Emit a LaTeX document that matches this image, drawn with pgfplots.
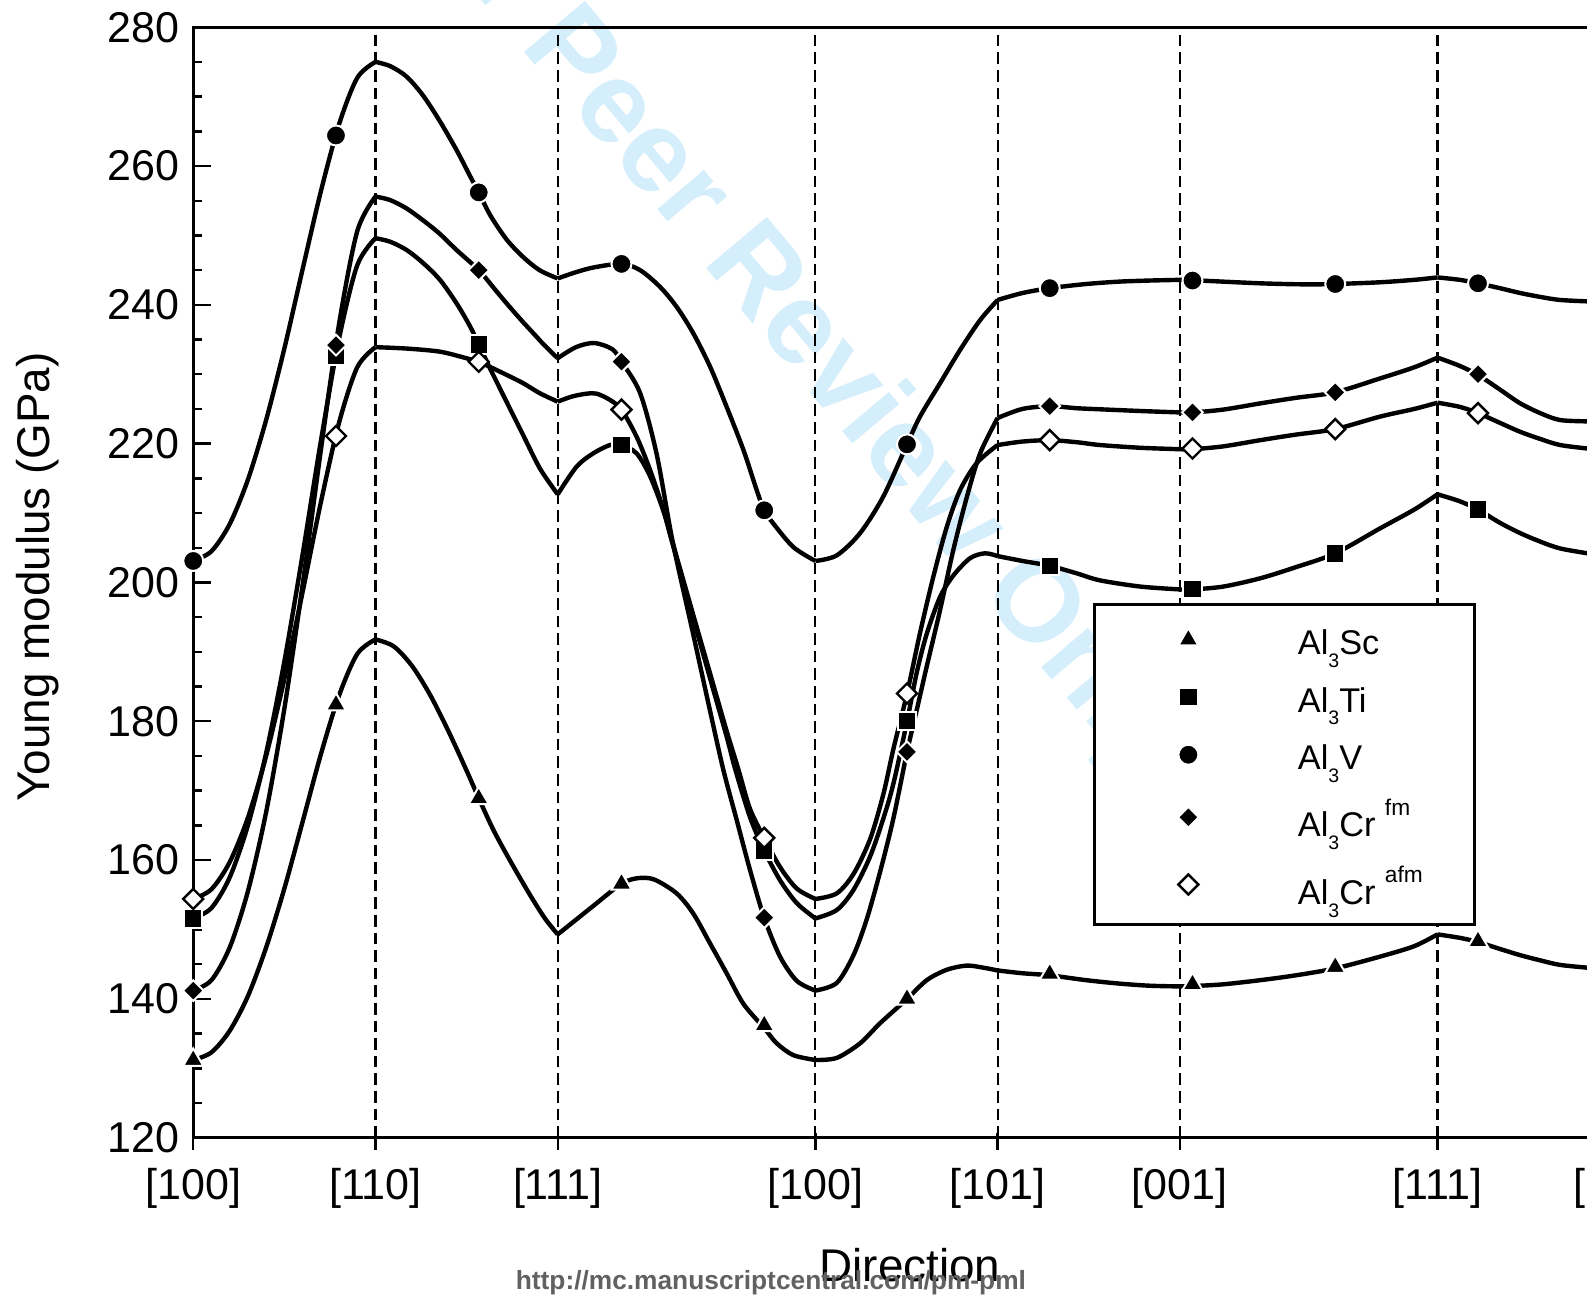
\documentclass[border=0pt]{standalone}
\usepackage{fontspec}
\setmainfont{Liberation Sans}
\usepackage{pgfplots}
\pgfplotsset{compat=1.18}
\definecolor{wmblue}{RGB}{212,238,251}
\newcommand{\lsub}[1]{\smash{\raisebox{-3.2bp}{\fontsize{4.9}{5}\selectfont #1}}}
\newcommand{\lsup}[1]{\smash{\raisebox{5.4bp}{\fontsize{5.7}{6}\selectfont #1}}}
\newcommand{\lstrutA}{\rule[-2.7bp]{0pt}{11.6bp}}
\newcommand{\lstrutB}{\rule[-5.15bp]{0pt}{16.5bp}}
\newcommand{\lstrutC}{\rule[-5.15bp]{0pt}{16.5bp}}
\begin{document}
\begin{tikzpicture}
\useasboundingbox (-48.3bp,-39.6bp) rectangle (348.4bp,284.4bp);
\node[rotate=-50, text=wmblue, font=\fontsize{29}{35}\selectfont\bfseries] at (147.8bp,205.6bp) {For Peer Review Only};
\begin{axis}[
  at={(0,0)}, anchor=south west,
  scale only axis, width=356.6bp, height=277.6bp,
  xmin=0, xmax=7.828, ymin=120, ymax=280,
  xtick={0,1,2,3.414,4.414,5.414,6.828,7.828},
  xticklabels={{[100]},{[110]},{[111]},{[100]},{[101]},{[001]},{[111]},{[110]}},
  ytick={120,140,160,180,200,220,240,260,280},
  minor y tick num=3,
  tick align=inside,
  xtick pos=left, ytick pos=left,
  major tick length=4.4bp, minor tick length=2.2bp,
  tick style={black, line width=0.6bp},
  xtick style={yshift=-3.1bp},
  xmajorgrids,
  grid style={black, line width=0.55bp, dash pattern=on 2.9bp off 1.5bp},
  axis line style={line width=0.7bp},
  /pgf/number format/assume math mode=true,
  tick label style={font=\fontsize{10.8}{13}\selectfont},
  xticklabel style={yshift=-4.2bp},
  label style={font=\fontsize{11.5}{14}\selectfont},
  xlabel={Direction},
  xlabel style={at={(axis description cs:0.5025,-0.1291)}, anchor=base},
  ylabel={Young modulus (GPa)},
  ylabel style={at={(axis description cs:-0.1004,0.505)}, anchor=base},
  legend cell align=left,
  legend image code/.code={\path[draw=none, fill=none] (-12.6bp,0bp) -- (0bp,0bp); \draw[#1, only marks] plot coordinates {(0bp,0bp)};},
  legend style={at={(0.6307,0.4814)}, anchor=north west, draw=black, line width=0.7bp, fill=white,
    inner xsep=10.9bp, inner ysep=1.6bp, column sep=22.8bp, row sep=0pt,
    font=\fontsize{8.6}{10}\selectfont},
  crv/.style={black, line width=1.1bp, line join=round, smooth, mark=none, forget plot},
]
% ---------- Al3V ----------
\addplot[crv] coordinates {(0,203.1)(0.1,204.5)(0.2,208.4)(0.3,214.8)(0.4,223.4)(0.5,233.7)(0.6,245.1)(0.7,256.3)(0.8,266.0)(0.9,272.7)(1,275.0)};
\addplot[crv] coordinates {(1,275.0)(1.08,274.4)(1.17,272.9)(1.26,270.2)(1.35,266.6)(1.445,262.3)(1.52,258.5)(1.567,256.2)(1.63,252.9)(1.72,249.4)(1.81,246.9)(1.90,245.0)(2,243.8)};
\addplot[crv] coordinates {(2,243.8)(2.1,244.7)(2.2,245.4)(2.35,245.9)(2.452,245.0)(2.561,242.6)(2.653,239.7)(2.744,235.9)(2.836,231.1)(2.927,225.3)(3.019,219.1)(3.092,213.3)(3.133,210.4)(3.183,208.5)(3.293,205.1)(3.414,203.1)};
\addplot[crv] coordinates {(3.414,203.1)(3.531,203.9)(3.659,207.1)(3.787,212.4)(3.917,219.9)(3.988,223.9)(4.098,228.7)(4.208,233.5)(4.318,237.8)(4.414,240.7)};
\addplot[crv] coordinates {(4.414,240.7)(4.55,241.7)(4.70,242.4)(4.90,243.0)(5.086,243.35)(5.25,243.5)(5.414,243.6)};
\addplot[crv] coordinates {(5.414,243.6)(5.483,243.55)(5.855,243.1)(6.1,242.95)(6.267,243.0)(6.513,243.25)(6.70,243.6)(6.828,243.95)};
\addplot[crv] coordinates {(6.828,243.95)(6.95,243.6)(7.05,243.1)(7.17,242.4)(7.282,241.7)(7.40,241.1)(7.501,240.7)(7.65,240.5)(7.7,240.5)};
% ---------- Al3Cr fm ----------
\addplot[crv] coordinates {(0,141.2)(0.1,142.7)(0.2,147.4)(0.3,155.5)(0.4,166.9)(0.5,181.8)(0.6,199.6)(0.7,219.0)(0.8,237.2)(0.9,250.6)(1,255.6)};
\addplot[crv] coordinates {(1,255.6)(1.08,255.1)(1.17,253.9)(1.26,252.2)(1.35,250.3)(1.445,247.9)(1.567,245.0)(1.65,242.4)(1.72,240.2)(1.80,237.8)(1.87,235.8)(1.93,234.1)(2,232.3)};
\addplot[crv] coordinates {(2,232.3)(2.1,233.9)(2.2,234.5)(2.30,233.6)(2.35,231.8)(2.452,227.3)(2.543,218.5)(2.63,206.0)(2.744,192.5)(2.836,181.5)(2.909,173.0)(2.982,165.8)(3.055,158.6)(3.133,151.7)(3.22,146.1)(3.312,142.6)(3.414,141.2)};
\addplot[crv] coordinates {(3.414,141.2)(3.531,142.3)(3.623,146.3)(3.696,151.5)(3.769,158.3)(3.842,166.0)(3.917,175.6)(3.97,181.6)(4.025,187.9)(4.098,196.0)(4.171,204.7)(4.245,212.3)(4.318,218.6)(4.414,223.7)};
\addplot[crv] coordinates {(4.414,223.7)(4.55,225.0)(4.70,225.4)(4.85,225.1)(4.976,224.95)(5.2,224.7)(5.414,224.5)};
\addplot[crv] coordinates {(5.414,224.5)(5.483,224.5)(5.65,224.9)(5.855,225.8)(6.05,226.6)(6.267,227.4)(6.513,229.4)(6.70,231.0)(6.828,232.4)};
\addplot[crv] coordinates {(6.828,232.4)(6.95,231.2)(7.05,229.9)(7.17,227.8)(7.282,225.8)(7.40,224.3)(7.501,223.4)(7.65,223.2)(7.7,223.1)};
% ---------- Al3Cr afm ----------
\addplot[crv] coordinates {(0,154.4)(0.1,155.8)(0.2,159.7)(0.3,166.1)(0.4,175.0)(0.5,186.1)(0.6,198.6)(0.7,211.5)(0.8,223.0)(0.9,231.0)(1,233.9)};
\addplot[crv] coordinates {(1,233.9)(1.171,233.7)(1.354,233.25)(1.50,232.3)(1.567,231.8)(1.72,229.9)(1.811,228.7)(1.903,227.25)(2,226.05)};
\addplot[crv] coordinates {(2,226.05)(2.08,226.8)(2.159,227.2)(2.214,227.2)(2.287,226.3)(2.35,224.9)(2.433,221.0)(2.507,216.2)(2.58,210.5)(2.63,205.8)(2.744,195.3)(2.836,186.9)(2.927,178.6)(2.99,173.2)(3.055,167.4)(3.133,163.2)(3.22,159.0)(3.312,155.9)(3.414,154.4)};
\addplot[crv] coordinates {(3.414,154.4)(3.531,155.2)(3.623,158.0)(3.714,163.0)(3.787,169.5)(3.842,176.0)(3.917,184.0)(3.988,192.7)(4.061,200.8)(4.135,208.0)(4.208,213.3)(4.299,217.2)(4.414,219.8)};
\addplot[crv] coordinates {(4.414,219.8)(4.55,220.3)(4.70,220.5)(4.85,220.2)(4.976,219.8)(5.2,219.4)(5.414,219.2)};
\addplot[crv] coordinates {(5.414,219.2)(5.483,219.2)(5.65,219.6)(5.855,220.5)(6.05,221.3)(6.267,222.1)(6.513,223.9)(6.70,225.0)(6.828,225.9)};
\addplot[crv] coordinates {(6.828,225.9)(6.95,225.3)(7.05,224.4)(7.17,223.0)(7.282,221.7)(7.40,220.6)(7.501,219.8)(7.65,219.3)(7.7,219.2)};
% ---------- Al3Ti ----------
\addplot[crv] coordinates {(0,151.6)(0.1,153.1)(0.2,157.5)(0.3,165.0)(0.4,175.4)(0.5,188.6)(0.6,204.0)(0.7,220.3)(0.8,235.1)(0.9,245.7)(1,249.6)};
\addplot[crv] coordinates {(1,249.6)(1.08,249.1)(1.171,247.9)(1.2625,246.0)(1.354,243.6)(1.4455,240.2)(1.519,236.9)(1.567,234.3)(1.6285,230.85)(1.72,226.0)(1.811,221.2)(1.903,216.4)(2,212.7)};
\addplot[crv] coordinates {(2,212.7)(2.104,216.7)(2.195,218.6)(2.287,219.8)(2.35,219.8)(2.433,218.6)(2.507,215.3)(2.58,210.3)(2.63,205.6)(2.744,194.8)(2.836,186.2)(2.927,177.8)(2.973,173.2)(3.055,166.2)(3.133,161.4)(3.22,157.1)(3.312,153.8)(3.414,151.6)};
\addplot[crv] coordinates {(3.414,151.6)(3.531,152.8)(3.623,155.7)(3.714,160.5)(3.787,166.0)(3.842,171.0)(3.917,180.0)(3.97,187.0)(4.025,192.6)(4.098,197.9)(4.171,201.0)(4.263,203.5)(4.345,204.2)(4.414,203.8)};
\addplot[crv] coordinates {(4.414,203.8)(4.55,203.1)(4.70,202.4)(4.85,201.3)(4.976,200.3)(5.2,199.4)(5.414,199.0)};
\addplot[crv] coordinates {(5.414,199.0)(5.483,199.0)(5.65,199.4)(5.855,200.6)(6.05,202.2)(6.267,204.2)(6.513,207.8)(6.70,210.5)(6.828,212.7)};
\addplot[crv] coordinates {(6.828,212.7)(6.95,211.7)(7.05,210.5)(7.17,208.6)(7.282,207.1)(7.40,205.8)(7.501,204.9)(7.65,204.2)(7.7,204.0)};
% ---------- Al3Sc ----------
\addplot[crv] coordinates {(0,131.2)(0.1,132.3)(0.2,135.4)(0.3,140.4)(0.4,147.4)(0.5,155.9)(0.6,165.5)(0.7,175.2)(0.8,183.7)(0.9,189.7)(1,191.8)};
\addplot[crv] coordinates {(1,191.8)(1.1,190.8)(1.2,188.0)(1.3,183.8)(1.4,178.6)(1.5,172.9)(1.567,168.9)(1.65,164.2)(1.75,159.4)(1.85,154.9)(1.93,151.6)(2,149.3)};
\addplot[crv] coordinates {(2,149.3)(2.1,151.4)(2.2,153.5)(2.35,156.6)(2.44,157.4)(2.53,157.2)(2.653,155.2)(2.744,152.3)(2.836,148.0)(2.927,143.7)(3.019,139.3)(3.133,135.8)(3.202,133.6)(3.293,131.9)(3.414,131.2)};
\addplot[crv] coordinates {(3.414,131.2)(3.531,131.5)(3.659,133.6)(3.769,136.5)(3.917,140.0)(4.025,142.7)(4.135,144.2)(4.244,144.8)(4.336,144.5)(4.414,144.1)};
\addplot[crv] coordinates {(4.414,144.1)(4.55,143.7)(4.70,143.4)(4.90,142.7)(5.086,142.2)(5.25,141.9)(5.414,141.8)};
\addplot[crv] coordinates {(5.414,141.8)(5.483,141.85)(5.65,142.1)(5.855,142.7)(6.05,143.4)(6.267,144.4)(6.513,146.1)(6.70,147.6)(6.828,149.3)};
\addplot[crv] coordinates {(6.828,149.3)(6.95,148.8)(7.05,148.2)(7.17,147.2)(7.282,146.3)(7.40,145.5)(7.501,144.9)(7.65,144.5)(7.7,144.4)};
% ---------- markers ----------
\addplot[only marks, mark=triangle*, mark size=2.9bp, mark options={fill=black, draw=white, line width=0.5bp}]
  coordinates {(0,131.2)(0.7833,182.4)(1.5667,168.9)(2.35,156.6)(3.1333,136.2)(3.9167,140.0)(4.70,143.6)(5.4833,142.1)(6.2667,144.6)(7.05,148.3)};
\addlegendentry{\lstrutA Al\lsub{3}Sc}
\addplot[only marks, mark=square*, mark size=2.3bp, mark options={fill=black, draw=white, line width=0.5bp}]
  coordinates {(0,151.6)(0.7833,232.7)(1.5667,234.3)(2.35,219.8)(3.1333,161.4)(3.9167,180.0)(4.70,202.4)(5.4833,199.1)(6.2667,204.2)(7.05,210.5)};
\addlegendentry{\lstrutA Al\lsub{3}Ti}
\addplot[only marks, mark=*, mark size=2.5bp, mark options={fill=black, draw=white, line width=0.5bp}]
  coordinates {(0,203.1)(0.7833,264.4)(1.5667,256.2)(2.35,245.9)(3.1333,210.4)(3.9167,219.9)(4.70,242.4)(5.4833,243.5)(6.2667,243.0)(7.05,243.1)};
\addlegendentry{\lstrutA Al\lsub{3}V}
\addplot[only marks, mark=diamond*, mark size=2.6bp, mark options={xscale=1.3333, fill=black, draw=white, line width=0.5bp}]
  coordinates {(0,141.2)(0.7833,234.2)(1.5667,245.0)(2.35,231.8)(3.1333,151.7)(3.9167,175.6)(4.70,225.4)(5.4833,224.5)(6.2667,227.4)(7.05,230.0)};
\addlegendentry{\lstrutB Al\lsub{3}Cr \lsup{fm}}
\addplot[only marks, mark=diamond*, mark size=2.5bp, mark options={xscale=1.3333, fill=white, draw=black, line width=0.6bp}]
  coordinates {(0,154.4)(0.7833,221.1)(1.5667,231.8)(2.35,224.9)(3.1333,163.2)(3.9167,184.0)(4.70,220.5)(5.4833,219.3)(6.2667,222.1)(7.05,224.4)};
\addlegendentry{\lstrutC Al\lsub{3}Cr \lsup{afm}}
\end{axis}
\node[anchor=base, text=black!62, font=\fontsize{6.6}{8}\selectfont\bfseries] at (144.4bp,-37.85bp) {http://mc.manuscriptcentral.com/pm-pml};
\end{tikzpicture}
\end{document}
